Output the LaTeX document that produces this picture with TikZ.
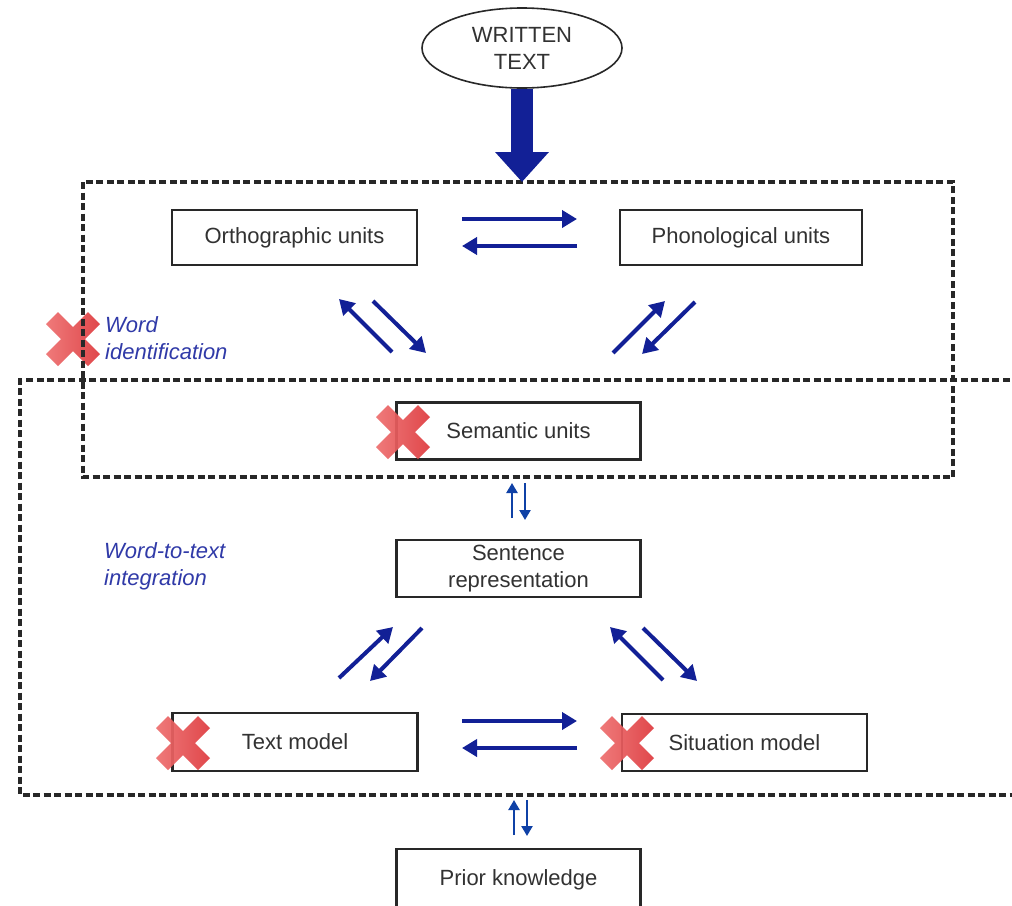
\documentclass[tikz,border=0pt]{standalone}
\usepackage{fontspec}
\setmainfont{Liberation Sans}
\usetikzlibrary{arrows.meta,shapes.geometric}

\definecolor{flowblue}{RGB}{18,32,150}
\definecolor{labelblue}{RGB}{48,58,168}
\definecolor{boxline}{RGB}{40,40,40}
\definecolor{boxtext}{RGB}{50,50,50}
\definecolor{crossL}{RGB}{238,112,112}
\definecolor{crossR}{RGB}{222,58,62}

\begin{document}
\begin{tikzpicture}[x=1pt,y=-1pt,
  every node/.style={font=\fontsize{22}{27}\selectfont, text=boxtext},
  unitbox/.style={draw=boxline, line width=2.2pt, fill=white, minimum width=244pt,
                  minimum height=57pt, inner sep=0pt, align=center},
  zone/.style={draw=boxline, line width=3.2pt, dash pattern=on 7pt off 3.5pt},
  flow/.style={draw=flowblue, line width=4pt, -{Triangle[length=15pt,width=17pt]}},
  thinflow/.style={draw=flowblue!85!cyan, line width=2.3pt, -{Triangle[length=10pt,width=11pt]}},
  stagelabel/.style={text=labelblue, font=\fontsize{22}{27}\selectfont\itshape,
                     align=left, anchor=west, inner sep=0pt},
  redcross/.pic={
    \shade[left color=crossL, right color=crossR, opacity=0.93]
      (27,15) -- (15,27) -- (0,12) -- (-15,27) -- (-27,15) -- (-12,0) --
      (-27,-15) -- (-15,-27) -- (0,-12) -- (15,-27) -- (27,-15) -- (12,0) -- cycle;
  }
]
\useasboundingbox (0,0) rectangle (1012,905);
\clip (0,0) rectangle (1012,905);
\fill[white] (0,0) rectangle (1012,905);

% cross next to the word identification stage (under the dashed frame)
\pic at (73,339) {redcross};

% stage frames
\draw[zone] (83,182) rectangle (953,477);
\draw[zone] (1020,380) -- (20,380) -- (20,795) -- (1020,795);

% input
\node[ellipse, draw=boxline, line width=1.6pt, minimum width=200pt, minimum height=80pt,
      inner sep=0pt, align=center, fill=white] (wt) at (522,48) {WRITTEN\\TEXT};
\coordinate (wtin) at (522,182);
\draw[draw=flowblue, line width=22pt, -{Triangle[length=30pt,width=52pt]}] (wt.south) -- (wtin);

% representation boxes
\node[unitbox, minimum width=245pt, minimum height=55pt] (ortho) at (294.5,237.5) {Orthographic units};
\node[unitbox, minimum width=242pt, minimum height=55pt] (phono) at (741,237.5) {Phonological units};
\node[unitbox] (sem) at (518.5,431) {Semantic units};
\node[unitbox] (sent) at (518.5,568.5) {Sentence\\representation};
\node[unitbox, minimum width=245pt, minimum height=58pt] (tmodel) at (295,742) {Text model};
\node[unitbox, minimum width=245pt] (smodel) at (744.5,742.5) {Situation model};
\node[unitbox, minimum height=62pt] (prior) at (518.5,880) {Prior knowledge};

% crosses on boxes
\pic at (403,432) {redcross};
\pic at (183,743) {redcross};
\pic at (627,743) {redcross};

% stage labels
\node[stagelabel] (wid) at (105,338) {Word\\identification};
\node[stagelabel] (wti) at (104,566) {Word-to-text\\integration};

% orthography <-> phonology
\coordinate (op1) at (462,219); \coordinate (op2) at (577,219);
\coordinate (po1) at (577,246); \coordinate (po2) at (462,246);
\draw[flow] (op1) -- (op2);
\draw[flow] (po1) -- (po2);

% orthography <-> semantics
\coordinate (os1) at (392,352); \coordinate (os2) at (339,299);
\coordinate (os3) at (373,301); \coordinate (os4) at (426,353);
\draw[flow] (os1) -- (os2);
\draw[flow] (os3) -- (os4);

% phonology <-> semantics
\coordinate (ps1) at (613,353); \coordinate (ps2) at (665,301);
\coordinate (ps3) at (695,302); \coordinate (ps4) at (642,354);
\draw[flow] (ps1) -- (ps2);
\draw[flow] (ps3) -- (ps4);

% semantics <-> sentence
\coordinate (ss1) at (512,518); \coordinate (ss2) at (512,483);
\coordinate (ss3) at (525,483); \coordinate (ss4) at (525,520);
\draw[thinflow] (ss1) -- (ss2);
\draw[thinflow] (ss3) -- (ss4);

% sentence <-> text model
\coordinate (st1) at (339,678); \coordinate (st2) at (393,627);
\coordinate (st3) at (422,628); \coordinate (st4) at (370,681);
\draw[flow] (st1) -- (st2);
\draw[flow] (st3) -- (st4);

% sentence <-> situation model
\coordinate (sm1) at (663,680); \coordinate (sm2) at (610,627);
\coordinate (sm3) at (643,628); \coordinate (sm4) at (697,681);
\draw[flow] (sm1) -- (sm2);
\draw[flow] (sm3) -- (sm4);

% text model <-> situation model
\coordinate (tm1) at (462,721); \coordinate (tm2) at (577,721);
\coordinate (tm3) at (577,748); \coordinate (tm4) at (462,748);
\draw[flow] (tm1) -- (tm2);
\draw[flow] (tm3) -- (tm4);

% models <-> prior knowledge
\coordinate (pk1) at (514,835); \coordinate (pk2) at (514,800);
\coordinate (pk3) at (527,800); \coordinate (pk4) at (527,836);
\draw[thinflow] (pk1) -- (pk2);
\draw[thinflow] (pk3) -- (pk4);
\end{tikzpicture}
\end{document}
